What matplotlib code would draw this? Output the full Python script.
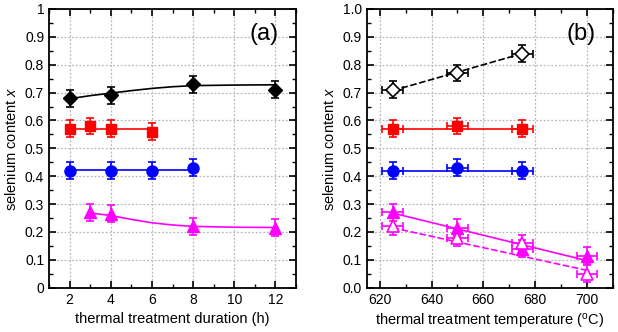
import matplotlib
matplotlib.use("Agg")
import matplotlib.pyplot as plt
from matplotlib.ticker import MultipleLocator, FormatStrFormatter

plt.rcParams['font.family'] = ['Liberation Sans', 'DejaVu Sans']
plt.rcParams['mathtext.fontset'] = 'custom'
plt.rcParams['mathtext.rm'] = 'Liberation Sans'
plt.rcParams['mathtext.it'] = 'Liberation Sans:italic'

# (a) thermal treatment duration
t_black = [2, 4, 8, 12]
x_black = [0.68, 0.69, 0.73, 0.71]
t_red = [2, 3, 4, 6]
x_red = [0.57, 0.58, 0.57, 0.56]
t_blue = [2, 4, 6, 8]
x_blue = [0.42, 0.42, 0.42, 0.43]
t_mag = [3, 4, 8, 12]
x_mag = [0.27, 0.265, 0.22, 0.215]
err_a = 0.03

# fit curves
fit_t_black = [2, 3, 4, 5, 6, 7, 8, 10, 12]
fit_x_black = [0.678, 0.689, 0.698, 0.707, 0.715, 0.721, 0.725, 0.727, 0.728]
fit_t_red = [2, 6]
fit_x_red = [0.568, 0.568]
fit_t_blue = [2, 8]
fit_x_blue = [0.423, 0.423]
fit_t_mag = [3, 4, 5, 6, 7, 8, 10, 12]
fit_x_mag = [0.268, 0.259, 0.245, 0.233, 0.225, 0.220, 0.217, 0.216]

# (b) thermal treatment temperature
T3 = [625, 650, 675]
T4 = [625, 650, 675, 700]
x_open_dia = [0.71, 0.77, 0.84]
x_sq = [0.57, 0.58, 0.57]
x_circ = [0.42, 0.43, 0.42]
x_tri = [0.27, 0.215, 0.14, 0.115]
x_open_tri = [0.22, 0.18, 0.16, 0.05]
err_b = 0.03
terr = 4

fit_T_dia = [625, 675]
fit_x_dia = [0.707, 0.84]
fit_T_sq = [625, 675]
fit_x_sq = [0.57, 0.57]
fit_T_circ = [625, 675]
fit_x_circ = [0.42, 0.42]
fit_T_tri = [625, 700]
fit_x_tri = [0.268, 0.097]
fit_T_otri = [625, 700]
fit_x_otri = [0.215, 0.062]

MAG = '#ff00ff'
fig = plt.figure(figsize=(6.18, 3.32), dpi=100)
axa = fig.add_axes([0.0793, 0.1334, 0.3997, 0.8396])
axb = fig.add_axes([0.5933, 0.1334, 0.3987, 0.8396])

eb = dict(capsize=3, elinewidth=1.2, capthick=1.2, linestyle='none', zorder=3)
ms = 7

# panel a
axa.plot(fit_t_black, fit_x_black, color='k', lw=1.2)
axa.plot(fit_t_red, fit_x_red, color='red', lw=1.2)
axa.plot(fit_t_blue, fit_x_blue, color='blue', lw=1.2)
axa.plot(fit_t_mag, fit_x_mag, color=MAG, lw=1.2)
axa.errorbar(t_black, x_black, yerr=err_a, fmt='D', color='k', ms=ms, **eb)
axa.errorbar(t_red, x_red, yerr=err_a, fmt='s', color='red', ms=ms, **eb)
axa.errorbar(t_blue, x_blue, yerr=err_a, fmt='o', color='blue', ms=ms + 1, **eb)
axa.errorbar(t_mag, x_mag, yerr=err_a, fmt='^', color=MAG, ms=ms + 1, **eb)
axa.set_xlim(1, 13)
axa.set_ylim(0, 1)
axa.xaxis.set_major_locator(MultipleLocator(2))
axa.xaxis.set_minor_locator(MultipleLocator(1))
axa.yaxis.set_major_locator(MultipleLocator(0.1))
axa.yaxis.set_minor_locator(MultipleLocator(0.05))
axa.yaxis.set_major_formatter(plt.FuncFormatter(lambda v, p: '%g' % round(v, 2)))
axa.set_xlabel('thermal treatment duration (h)', fontsize=10.5)
axa.set_ylabel('selenium content $x$', fontsize=10.5)
axa.text(0.93, 0.95, '(a)', transform=axa.transAxes, fontsize=17, ha='right', va='top')

# panel b
axb.plot(fit_T_dia, fit_x_dia, color='k', lw=1.2, ls=(0, (4, 1.5)))
axb.plot(fit_T_sq, fit_x_sq, color='red', lw=1.2)
axb.plot(fit_T_circ, fit_x_circ, color='blue', lw=1.2)
axb.plot(fit_T_tri, fit_x_tri, color=MAG, lw=1.2)
axb.plot(fit_T_otri, fit_x_otri, color=MAG, lw=1.2, ls=(0, (4, 1.5)))
axb.errorbar(T3, x_open_dia, xerr=terr, yerr=err_b, fmt='D', color='k', mfc='white',
             mew=1.2, ms=ms, **eb)
axb.errorbar(T3, x_sq, xerr=terr, yerr=err_b, fmt='s', color='red', ms=ms, **eb)
axb.errorbar(T3, x_circ, xerr=terr, yerr=err_b, fmt='o', color='blue', ms=ms + 1, **eb)
axb.errorbar(T4, x_tri, xerr=terr, yerr=err_b, fmt='^', color=MAG, ms=ms + 1, **eb)
axb.errorbar(T4, x_open_tri, xerr=terr, yerr=err_b, fmt='^', color=MAG, mfc='white',
             mew=1.2, ms=ms + 1, **eb)
axb.set_xlim(615, 710)
axb.set_ylim(0, 1)
axb.xaxis.set_major_locator(MultipleLocator(20))
axb.xaxis.set_minor_locator(MultipleLocator(10))
axb.yaxis.set_major_locator(MultipleLocator(0.1))
axb.yaxis.set_minor_locator(MultipleLocator(0.05))
axb.yaxis.set_major_formatter(FormatStrFormatter('%.1f'))
axb.set_xlabel('thermal treatment temperature ($^{\\rm o}$C)', fontsize=10.5)
axb.set_ylabel('selenium content $x$', fontsize=10.5)
axb.text(0.93, 0.95, '(b)', transform=axb.transAxes, fontsize=17, ha='right', va='top')

for ax in (axa, axb):
    ax.grid(True, which='major', color='#b8b8b8', ls=(0, (1.5, 1.5)), lw=0.9)
    ax.set_axisbelow(True)
    ax.tick_params(which='both', direction='in', top=True, right=True, labelsize=10)
    ax.tick_params(which='major', length=5, width=1.2)
    ax.tick_params(which='minor', length=3, width=1.0)
    for s in ax.spines.values():
        s.set_linewidth(1.3)

fig.savefig('out.png', dpi=100)
